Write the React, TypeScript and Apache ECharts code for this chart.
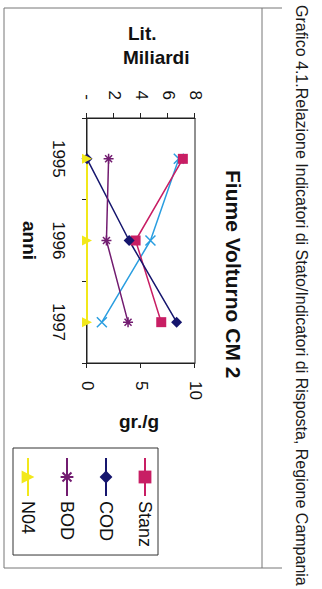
import React, { useEffect, useRef } from 'react';
import * as echarts from 'echarts';

// ---- data ----
const years = ['1995', '1996', '1997'];
const stanz = [7.1, 3.6, 5.5]; // Lit. Miliardi (left axis)
const serie5 = [6.8, 4.7, 1.1]; // light-blue series, not in legend (left axis)
const cod = [0, 3.9, 8.3]; // gr./g (right axis)
const bod = [2.0, 1.8, 3.8]; // gr./g
const no4 = [0, 0, 0]; // gr./g
const legendNames = ['Stanz', 'COD', 'BOD', 'N04'];
const litTicks = [0, 2, 4, 6, 8];
const grTicks = [0, 5, 10];

const CAPTION = 'Grafico 4.1.Relazione Indicatori di Stato/Indicatori di Risposta, Regione Campania';
const TITLE = 'Fiume Volturno CM 2';

const FONT = "'Liberation Sans', Arial, sans-serif";
const W = 589;
const H = 322;

const C_STANZ = '#C81E64';
const C_COD = '#16166E';
const C_BOD = '#721C70';
const C_NO4 = '#F2E81A';
const C_S5 = '#2A9EE0';
const C_FRAME = '#777';

const ASTERISK = 'path://M5,0L5,10M0,5L10,5M1.5,1.5L8.5,8.5M8.5,1.5L1.5,8.5';
const CROSS = 'path://M0,0L10,10M10,0L0,10';

export default function App() {
  const ref = useRef<HTMLDivElement>(null);
  useEffect(() => {
    if (!ref.current) return;
    const chart = echarts.init(ref.current, null, { renderer: 'svg' });
    const axisCommon = {
      axisLine: { show: true, lineStyle: { color: '#222', width: 1 } },
      axisTick: { show: true, inside: false, length: 5, lineStyle: { color: '#222' } },
      splitLine: { show: false },
    };
    const frameLine = (x1: number, y1: number, x2: number, y2: number) => ({
      type: 'line', silent: true,
      shape: { x1, y1, x2, y2 },
      style: { stroke: C_FRAME, lineWidth: 1 },
    });
    const option: any = {
      animation: false,
      backgroundColor: '#ffffff',
      textStyle: { fontFamily: FONT },
      grid: {
        left: 118, top: 127, width: 245, height: 108,
        show: true, borderColor: '#222', borderWidth: 1, backgroundColor: 'transparent',
      },
      legend: {
        data: legendNames,
        orient: 'vertical',
        left: 448, top: 164,
        padding: [3, 8, 5, 9],
        itemGap: 19,
        itemWidth: 38,
        itemHeight: 16,
        borderColor: '#333', borderWidth: 1,
        textStyle: { fontSize: 18, color: '#111', fontFamily: FONT, lineHeight: 20 },
      },
      xAxis: {
        type: 'category',
        data: years,
        boundaryGap: true,
        ...axisCommon,
        axisTick: { show: true, inside: false, length: 5, alignWithLabel: false, lineStyle: { color: '#222' } },
        axisLabel: { fontSize: 17, color: '#111', margin: 20, fontFamily: FONT },
        name: 'anni', nameLocation: 'middle', nameGap: 48,
        nameTextStyle: { fontSize: 19, fontWeight: 'bold', color: '#111', fontFamily: FONT },
      },
      yAxis: [
        {
          type: 'value', position: 'left',
          min: litTicks[0], max: litTicks[litTicks.length - 1], interval: litTicks[1] - litTicks[0],
          ...axisCommon,
          axisLabel: {
            fontSize: 17, color: '#111', margin: 18, fontFamily: FONT,
            formatter: (v: number) => (v === 0 ? '-' : String(v)),
          },
        },
        {
          type: 'value', position: 'right',
          min: grTicks[0], max: grTicks[grTicks.length - 1], interval: grTicks[1] - grTicks[0],
          ...axisCommon,
          axisLabel: { fontSize: 17, color: '#111', margin: 18, fontFamily: FONT },
        },
      ],
      series: [
        {
          name: 'Serie 5', type: 'line', yAxisIndex: 0, data: serie5,
          symbol: CROSS, symbolSize: 10,
          lineStyle: { color: C_S5, width: 1.5 },
          itemStyle: { color: C_S5, borderColor: C_S5, borderWidth: 1.5 },
        },
        {
          name: 'Stanz', type: 'line', yAxisIndex: 0, data: stanz,
          symbol: 'rect', symbolSize: 10,
          lineStyle: { color: C_STANZ, width: 1.5 },
          itemStyle: { color: C_STANZ },
        },
        {
          name: 'COD', type: 'line', yAxisIndex: 1, data: cod,
          symbol: 'diamond', symbolSize: 11,
          lineStyle: { color: C_COD, width: 1.5 },
          itemStyle: { color: C_COD },
        },
        {
          name: 'BOD', type: 'line', yAxisIndex: 1, data: bod,
          symbol: ASTERISK, symbolSize: 10,
          lineStyle: { color: C_BOD, width: 1.5 },
          itemStyle: { color: C_BOD, borderColor: C_BOD, borderWidth: 1.5 },
        },
        {
          name: 'N04', type: 'line', yAxisIndex: 1, data: no4,
          symbol: 'triangle', symbolSize: 10,
          lineStyle: { color: C_NO4, width: 2 },
          itemStyle: { color: C_NO4 },
        },
      ],
      graphic: [
        frameLine(8, 40, 8, 318),
        frameLine(568, 40, 568, 318),
        frameLine(8, 318, 568, 318),
        frameLine(8, 60, 568, 60),
        {
          type: 'text', x: 5, y: 21,
          style: { text: CAPTION, fontSize: 16, fill: '#1a1a1a', fontFamily: FONT, align: 'left', verticalAlign: 'middle' },
        },
        {
          type: 'text', x: 170, y: 89,
          style: { text: TITLE, fontSize: 21, fontWeight: 'bold', fill: '#111', fontFamily: FONT, align: 'left', verticalAlign: 'middle' },
        },
        {
          type: 'text', x: 33, y: 194, rotation: Math.PI / 2,
          style: {
            text: 'Lit.', fontSize: 19, fontWeight: 'bold', fill: '#111', fontFamily: FONT,
            align: 'left', verticalAlign: 'middle',
          },
        },
        {
          type: 'text', x: 57, y: 199, rotation: Math.PI / 2,
          style: {
            text: 'Miliardi', fontSize: 19, fontWeight: 'bold', fill: '#111', fontFamily: FONT,
            align: 'left', verticalAlign: 'middle',
          },
        },
        {
          type: 'text', x: 421, y: 183, rotation: Math.PI / 2,
          style: { text: 'gr./g', fontSize: 19, fontWeight: 'bold', fill: '#111', fontFamily: FONT, align: 'center', verticalAlign: 'middle' },
        },
      ],
    };
    chart.setOption(option);
    return () => chart.dispose();
  }, []);
  return (
    <div
      style={{
        position: 'fixed', left: 0, top: 0, width: H, height: W, overflow: 'hidden', background: '#fff',
      }}
    >
      <div
        ref={ref}
        style={{
          position: 'absolute', left: 0, top: 0, width: W, height: H,
          transformOrigin: '0 0', transform: `translate(${H}px, 0px) rotate(90deg)`,
        }}
      />
    </div>
  );
}
